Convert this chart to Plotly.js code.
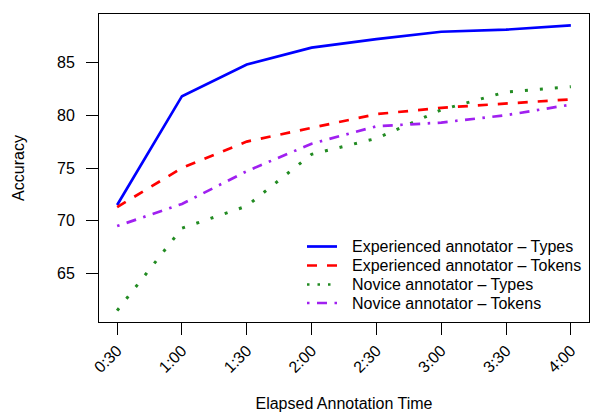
<!DOCTYPE html>
<html>
<head>
<meta charset="utf-8">
<script src="https://cdn.plot.ly/plotly-3.0.1.min.js"></script>
<style>html,body{margin:0;padding:0;background:#fff;}</style>
</head>
<body>
<div id="chart" style="width:590px;height:412px;"></div>
<script>
const timeLabels = ["0:30","1:00","1:30","2:00","2:30","3:00","3:30","4:00"];
const expTypes   = [71.5, 81.8, 84.8, 86.4, 87.2, 87.9, 88.1, 88.5];
const expTokens  = [71.3, 75.0, 77.5, 78.8, 80.1, 80.7, 81.1, 81.5];
const novTypes   = [61.5, 69.3, 71.4, 76.3, 77.8, 80.5, 82.2, 82.7];
const novTokens  = [69.5, 71.6, 74.7, 77.3, 78.95, 79.3, 80.0, 81.0];
const seriesNames = ["Experienced annotator \u2013 Types","Experienced annotator \u2013 Tokens","Novice annotator \u2013 Types","Novice annotator \u2013 Tokens"];
const yTicks = [65, 70, 75, 80, 85];

const xIdx = timeLabels.map((_, i) => i);
const FONT = "Liberation Sans, Arial, Helvetica, sans-serif";

const styles = [
  {color: "#0000FF", width: 2.7, dash: "solid"},
  {color: "#FF0000", width: 2.7, dash: "10px,10px"},
  {color: "#228B22", width: 3, dash: "3px,12px"},
  {color: "#A020F0", width: 2.7, dash: "2.5px,7.5px,10px,7.5px"}
];
const legendStyles = [
  styles[0], styles[1],
  {color: "#228B22", width: 2.5, dash: "2.5px,8px"},
  styles[3]
];
const seriesData = [expTypes, expTokens, novTypes, novTokens];

const traces = seriesData.map((ys, k) => ({
  x: xIdx, y: ys, name: seriesNames[k], mode: "lines", line: styles[k], showlegend: false
}));

// Manual legend (R-style compact legend), placed in paper coordinates
const plotL = 99, plotW = 490, plotB = 322, plotH = 308;
const px2x = p => (p - plotL) / plotW;
const px2y = p => (plotB - p) / plotH;
const legendRowsPx = [246.5, 265.5, 284.5, 303];
const shapes = [], annotations = [];
legendRowsPx.forEach((py, k) => {
  shapes.push({type: "line", xref: "paper", yref: "paper",
    x0: px2x(307), x1: px2x(337), y0: px2y(py), y1: px2y(py),
    line: legendStyles[k]});
  annotations.push({xref: "paper", yref: "paper", x: px2x(350), y: px2y(py),
    xanchor: "left", yanchor: "middle", showarrow: false,
    text: seriesNames[k], font: {family: FONT, size: 16, color: "#000"}});
});

const layout = {
  width: 590, height: 412,
  margin: {l: 99, r: 1, t: 14, b: 90},
  paper_bgcolor: "#fff", plot_bgcolor: "#fff",
  font: {family: FONT, size: 16, color: "#000"},
  showlegend: false,
  shapes: shapes,
  annotations: annotations,
  xaxis: {
    range: [-0.28, 7.28],
    tickmode: "array", tickvals: xIdx, ticktext: timeLabels,
    tickangle: -45,
    ticks: "outside", ticklen: 12, tickwidth: 1, tickcolor: "#000",
    showline: true, linecolor: "#000", linewidth: 1, mirror: true,
    showgrid: false, zeroline: false,
    tickfont: {size: 16},
    title: {text: "Elapsed Annotation Time", font: {size: 16}, standoff: 22}
  },
  yaxis: {
    range: [60.42, 89.58],
    tickmode: "array", tickvals: yTicks,
    ticks: "outside", ticklen: 12, tickwidth: 1, tickcolor: "#000",
    showline: true, linecolor: "#000", linewidth: 1, mirror: true,
    showgrid: false, zeroline: false,
    ticklabelstandoff: 8,
    tickfont: {size: 16},
    title: {text: "Accuracy", font: {size: 16}, standoff: 28}
  }
};

Plotly.newPlot("chart", traces, layout, {displayModeBar: false, staticPlot: true});
</script>
</body>
</html>
